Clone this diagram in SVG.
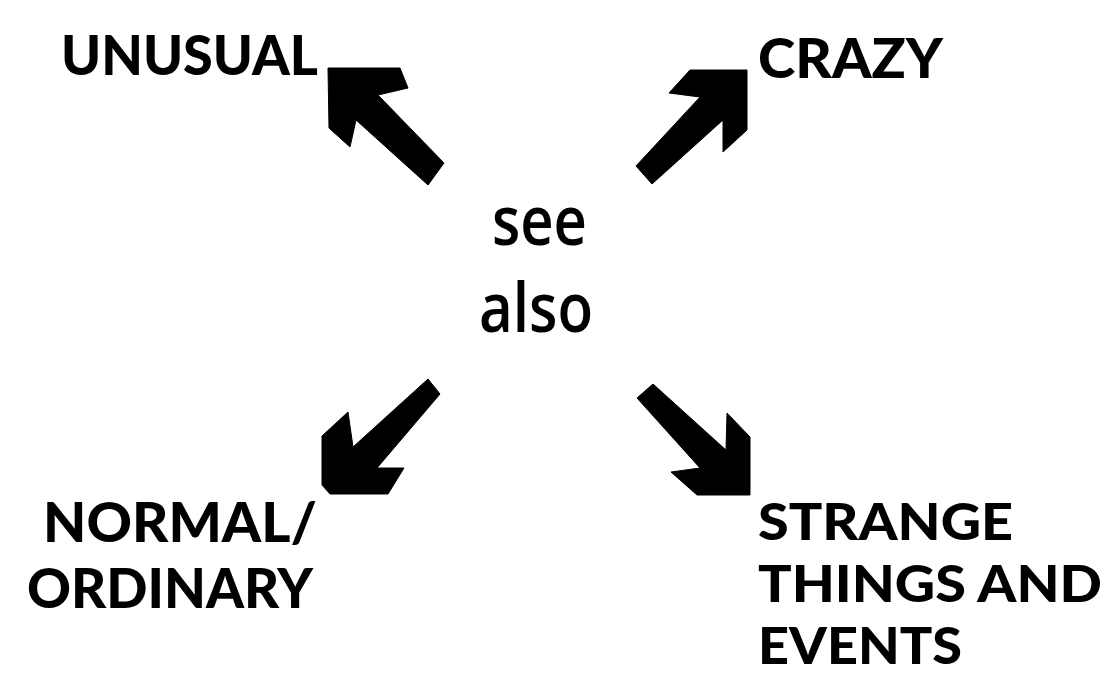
<svg xmlns="http://www.w3.org/2000/svg" width="1109" height="675" viewBox="0 0 1109 675">
<style>
.lbl{font-family:Lato,"Liberation Sans",sans-serif;font-weight:900;font-size:56px;fill:#000}
.sm{font-size:52px}
.ctr{font-family:"Open Sans","Noto Sans",sans-serif;font-weight:600;font-size:68px;fill:#000}
.arr{fill:#000;stroke:#000;stroke-width:1;stroke-linejoin:round}
</style>
<rect width="1109" height="675" fill="#fff"/>
<g id="connectors">
<polygon class="arr" points="328,68 400,68 408,88 378,95 444,163 428,185 356,120 350,147 329,128"/>
<polygon class="arr" points="690,70 747,70 747,130 723,152 723,120 652,184 636,166 700,97 669,93"/>
<polygon class="arr" points="428,379 440,394 377,468 404,468 388,494 330,494 322,485 322,436 348,412 353,447"/>
<polygon class="arr" points="653,384 726,450 727,413 750,437 750,495 697,495 671,472 700,468 637,398"/>
</g>
<g id="center">
<text class="ctr" x="492" y="245" textLength="95" lengthAdjust="spacingAndGlyphs">see</text>
<text class="ctr" x="479" y="332" textLength="114" lengthAdjust="spacingAndGlyphs">also</text>
</g>
<g id="unusual">
<text class="lbl" x="61" y="75" textLength="257" lengthAdjust="spacingAndGlyphs">UNUSUAL</text>
</g>
<g id="crazy">
<text class="lbl" x="758" y="78" textLength="185" lengthAdjust="spacingAndGlyphs">CRAZY</text>
</g>
<g id="normal">
<text class="lbl" x="43" y="542" textLength="274" lengthAdjust="spacingAndGlyphs">NORMAL/</text>
<text class="lbl" x="27" y="608" textLength="286" lengthAdjust="spacingAndGlyphs">ORDINARY</text>
</g>
<g id="strange">
<text class="lbl sm" x="758" y="540" textLength="255" lengthAdjust="spacingAndGlyphs">STRANGE</text>
<text class="lbl sm" x="758" y="602" textLength="344" lengthAdjust="spacingAndGlyphs">THINGS AND</text>
<text class="lbl sm" x="758" y="664" textLength="204" lengthAdjust="spacingAndGlyphs">EVENTS</text>
</g>
</svg>
